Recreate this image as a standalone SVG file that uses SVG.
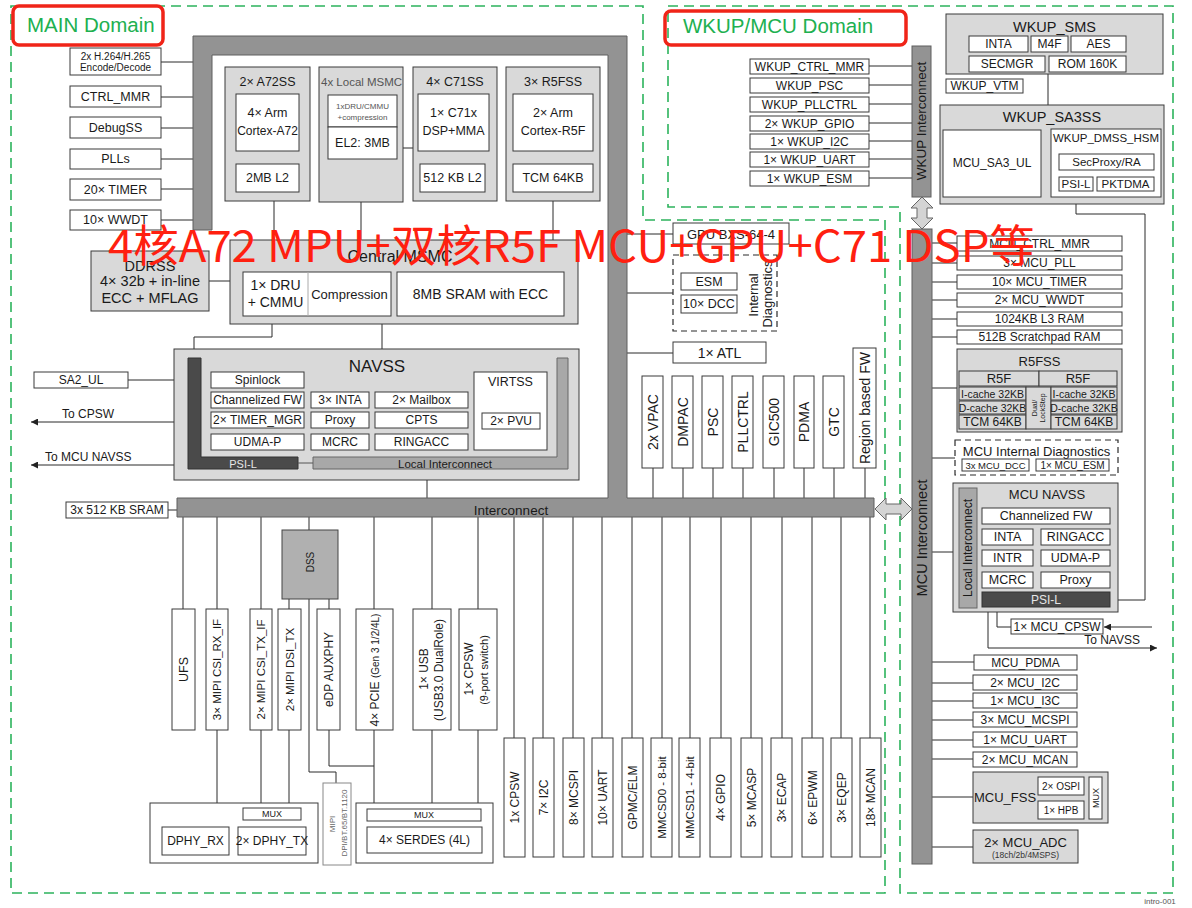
<svg xmlns="http://www.w3.org/2000/svg" width="1192" height="908" viewBox="0 0 1192 908">
<defs>
<style>
.bx{fill:#fff;stroke:#3a3a3a;stroke-width:1}
.gy{fill:#d9d9d9;stroke:#3a3a3a;stroke-width:1}
.bar{fill:#939393;stroke:#5e5e5e;stroke-width:1}
.dk{fill:#4a4a4a;stroke:#333;stroke-width:1}
.li{fill:#a8a8a8;stroke:#666;stroke-width:1}
.ln{fill:none;stroke:#2a2a2a;stroke-width:1}
.dash{fill:none;stroke:#2b2b2b;stroke-width:1.2;stroke-dasharray:6 4}
.dom{fill:none;stroke:#2cb35c;stroke-width:1.6;stroke-dasharray:10 6}
.red{fill:none;stroke:#f02418;stroke-width:3.5}
.dbl{fill:#d4d4d4;stroke:#666;stroke-width:1}
text{font-family:"Liberation Sans",Arial,sans-serif;fill:#1a1a1a}
.t{text-anchor:middle;dominant-baseline:central}
.lbl{fill:#20b050}
.lt{fill:#e6e6e6}
.gr{fill:#555}
</style>
<marker id="arr" viewBox="0 0 10 10" refX="10" refY="5" markerWidth="7" markerHeight="7" orient="auto"><path d="M0,0 L10,5 L0,10 Z" fill="#222"/></marker>
</defs>
<rect width="1192" height="908" fill="#fff"/>

<g id="domains">
<path class="dom" d="M11,6 H643 V220 H885 V893 H11 Z"/>
<path class="dom" d="M668,6 H1173 V893 H900 V207 H668 Z"/>
<rect class="red" x="13" y="6" width="150" height="39" rx="6"/>
<text class="lbl" x="27" y="32" font-size="20.5">MAIN Domain</text>
<rect class="red" x="665" y="11" width="241" height="34" rx="6"/>
<text class="lbl" x="683" y="33" font-size="20.5">WKUP/MCU Domain</text>
<text class="gr" x="1160" y="904" font-size="8" text-anchor="middle">intro-001</text>
</g>

<g id="connectors" class="ln">
<path d="M161,62H193 M161,97H193 M161,128H193 M161,159H193 M161,189H193 M161,220H193"/>
<path d="M274,201V240 M361,202V240 M553,201V240 M403,148H413"/>
<path d="M209,281H230 M272,324V337H194V358 M382,324V349 M128,380H174 M427,469V498 M168,510H177"/>
<path d="M188,422H31" marker-end="url(#arr)"/>
<path d="M188,465H31" marker-end="url(#arr)"/>
<path d="M627,234H673 M627,293H673 M627,353H673"/>
<path d="M653,468V498 M683,468V498 M713,468V498 M743,468V498 M774,468V498 M804,468V498 M834,468V498 M865,468V498"/>
<path d="M514,517V738 M543,517V738 M573,517V738 M602,517V738 M632,517V738 M662,517V738 M690,517V738 M721,517V738 M751,517V738 M782,517V738 M812,517V738 M841,517V738 M870,517V738"/>
<path d="M183,517V609 M217,517V609 M261,517V609 M309,517V530 M374,517V609 M432,517V609 M478,517V609 M289,599V609 M329,599V609"/>
<path d="M217,730V827 M261,730V808 M289,730V808 M374,730V809 M432,730V809 M478,730V809 M329,730V766H374 M309,599V772H336V783 M250,820V827 M282,820V827"/>
<path d="M869,66H912 M869,85H912 M869,104H912 M869,123H912 M869,141H912 M869,159H912 M869,178H912"/>
<path d="M1048,74V105 M1041,184H1059 M1076,204V214H1145V600H1110"/>
<path d="M932,243H957 M932,263H957 M932,282H957 M932,300H957 M932,319H957 M932,337H957 M932,388H957 M932,458H955 M932,552H959"/>
<path d="M997,607V627H1011"/>
<path d="M1152,627H1104" marker-end="url(#arr)"/>
<path d="M988,607V648H1157" marker-end="url(#arr)"/>
<path d="M932,662H974 M932,683H973 M932,701H973 M932,720H973 M932,740H973 M932,759H973 M932,797H973 M932,847H973 M1084,786H1089 M1084,810H1089"/>
</g>

<g id="main-frame">
<path class="bar" d="M193,36 H627 V498 H874 V517 H177 V498 H608 V55 H212 V230 H193 Z"/>
<text class="t" x="511" y="510" font-size="13.5">Interconnect</text>
<path class="dbl" d="M875,509 L886,498 V504 H901 V498 L912,509 L901,520 V514 H886 V520 Z"/>
</g>

<g id="left-periph">
<rect class="bx" x="70" y="48" width="91" height="27"/><text class="t" x="115.5" y="56" font-size="10">2x H.264/H.265</text><text class="t" x="115.5" y="67" font-size="10">Encode/Decode</text>
<rect class="bx" x="70" y="86" width="91" height="21"/><text class="t" x="115.5" y="96.5" font-size="12.5">CTRL_MMR</text>
<rect class="bx" x="70" y="117" width="91" height="21"/><text class="t" x="115.5" y="127.5" font-size="12.5">DebugSS</text>
<rect class="bx" x="70" y="149" width="91" height="20"/><text class="t" x="115.5" y="159" font-size="12.5">PLLs</text>
<rect class="bx" x="70" y="179" width="91" height="21"/><text class="t" x="115.5" y="189.5" font-size="12.5">20× TIMER</text>
<rect class="bx" x="70" y="210" width="91" height="20"/><text class="t" x="115.5" y="220" font-size="12.5">10× WWDT</text>
</g>

<g id="a72ss">
<rect class="gy" x="225" y="67" width="85" height="134"/>
<text class="t" x="267.5" y="82" font-size="12.5">2× A72SS</text>
<rect class="bx" x="236" y="94" width="63" height="57"/>
<text class="t" x="267.5" y="113" font-size="12.5">4× Arm</text><text class="t" x="267.5" y="131" font-size="12">Cortex-A72</text>
<rect class="bx" x="236" y="164" width="63" height="28"/><text class="t" x="267.5" y="178" font-size="12.5">2MB L2</text>
</g>
<g id="local-msmc">
<rect class="gy" x="319" y="67" width="84" height="135"/>
<text class="gr" x="321" y="86" font-size="11.5">4x Local MSMC</text>
<rect class="bx" x="328" y="95" width="69" height="32"/>
<text class="t gr" x="362.5" y="106" font-size="8">1xDRU/CMMU</text><text class="t gr" x="362.5" y="117" font-size="8">+compression</text>
<rect class="bx" x="328" y="127" width="69" height="32"/><text class="t" x="362.5" y="143" font-size="12.5">EL2: 3MB</text>
</g>
<g id="c71ss">
<rect class="gy" x="413" y="67" width="84" height="134"/>
<text class="t" x="455" y="82" font-size="12.5">4× C71SS</text>
<rect class="bx" x="418" y="94" width="71" height="57"/>
<text class="t" x="453.5" y="113" font-size="12.5">1× C71x</text><text class="t" x="453.5" y="131" font-size="12.5">DSP+MMA</text>
<rect class="bx" x="420" y="164" width="65" height="28"/><text class="t" x="452.5" y="178" font-size="12.5">512 KB L2</text>
</g>
<g id="r5fss">
<rect class="gy" x="506" y="67" width="94" height="134"/>
<text class="t" x="553" y="82" font-size="12.5">3× R5FSS</text>
<rect class="bx" x="513" y="94" width="80" height="57"/>
<text class="t" x="553" y="113" font-size="12.5">2× Arm</text><text class="t" x="553" y="131" font-size="12.5">Cortex-R5F</text>
<rect class="bx" x="513" y="164" width="80" height="28"/><text class="t" x="553" y="178" font-size="12.5">TCM 64KB</text>
</g>

<g id="ddrss">
<rect class="gy" x="91" y="251" width="118" height="60"/>
<text class="t" x="150" y="266" font-size="14.5">DDRSS</text>
<text class="t" x="150" y="281" font-size="14.5">4× 32b + in-line</text>
<text class="t" x="150" y="298" font-size="14.5">ECC + MFLAG</text>
</g>
<g id="central-msmc">
<rect class="gy" x="230" y="240" width="348" height="84"/>
<text class="t" x="400" y="256" font-size="16">Central MSMC</text>
<rect class="bx" x="243" y="272" width="148" height="44"/>
<path d="M308,272V316" stroke="#aaa" stroke-width="1"/>
<text class="t" x="275.5" y="285" font-size="14">1× DRU</text><text class="t" x="275.5" y="302" font-size="14">+ CMMU</text>
<text class="t" x="349.5" y="294" font-size="13">Compression</text>
<rect class="bx" x="397" y="272" width="167" height="44"/><text class="t" x="480.5" y="294" font-size="14">8MB SRAM with ECC</text>
</g>

<g id="navss">
<rect class="gy" x="174" y="349" width="405" height="131"/>
<text class="t" x="377" y="366" font-size="17">NAVSS</text>
<path class="dk" d="M188,358 H201 V457 H298 V469 H188 Z"/>
<text class="t lt" x="243" y="463.5" font-size="11">PSI-L</text>
<path class="li" d="M313,457 H557 V358 H568 V469 H313 Z"/>
<text class="t" x="445" y="463.5" font-size="11.5">Local Interconnect</text>
<path d="M298,463H313" stroke="#555"/>
<rect class="bx" x="211" y="372" width="93" height="16"/><text class="t" x="257.5" y="380" font-size="12">Spinlock</text>
<rect class="bx" x="211" y="392" width="93" height="16"/><text class="t" x="257.5" y="400" font-size="12">Channelized FW</text>
<rect class="bx" x="211" y="412" width="93" height="16"/><text class="t" x="257.5" y="420" font-size="12">2× TIMER_MGR</text>
<rect class="bx" x="211" y="434" width="93" height="16"/><text class="t" x="257.5" y="442" font-size="12">UDMA-P</text>
<rect class="bx" x="311" y="392" width="58" height="16"/><text class="t" x="340" y="400" font-size="12">3× INTA</text>
<rect class="bx" x="311" y="412" width="58" height="16"/><text class="t" x="340" y="420" font-size="12">Proxy</text>
<rect class="bx" x="311" y="434" width="58" height="16"/><text class="t" x="340" y="442" font-size="12">MCRC</text>
<rect class="bx" x="375" y="392" width="93" height="16"/><text class="t" x="421.5" y="400" font-size="12">2× Mailbox</text>
<rect class="bx" x="375" y="412" width="93" height="16"/><text class="t" x="421.5" y="420" font-size="12">CPTS</text>
<rect class="bx" x="375" y="434" width="93" height="16"/><text class="t" x="421.5" y="442" font-size="12">RINGACC</text>
<rect class="bx" x="474" y="372" width="73" height="78"/><text class="t" x="510.5" y="382" font-size="12.5">VIRTSS</text>
<rect class="bx" x="482" y="413" width="58" height="16"/><text class="t" x="511" y="421" font-size="12">2× PVU</text>
</g>

<g id="sa2ul"><rect class="bx" x="34" y="372" width="94" height="16"/><text class="t" x="81" y="380" font-size="12">SA2_UL</text></g>
<g id="to-cpsw"><text x="62" y="418" font-size="12">To CPSW</text></g>
<g id="to-mcu-navss"><text x="45" y="461" font-size="12">To MCU NAVSS</text></g>
<g id="sram"><rect class="bx" x="66" y="502" width="102" height="16"/><text class="t" x="117" y="510" font-size="12">3x 512 KB SRAM</text></g>

<g id="gpu"><rect class="bx" x="673" y="223" width="116" height="21"/><text class="t" x="731" y="234" font-size="13">GPU BXS-64-4</text></g>
<g id="int-diag">
<rect class="dash" x="673" y="255" width="104" height="76"/>
<rect class="bx" x="681" y="273" width="56" height="17"/><text class="t" x="709" y="281.5" font-size="12.5">ESM</text>
<rect class="bx" x="681" y="295" width="56" height="18"/><text class="t" x="709" y="304" font-size="12.5">10× DCC</text>
<text class="t" transform="translate(753,295) rotate(-90)" font-size="13">Internal</text>
<text class="t" transform="translate(767,294) rotate(-90)" font-size="13">Diagnostics</text>
</g>
<g id="atl"><rect class="bx" x="673" y="342" width="93" height="21"/><text class="t" x="719.5" y="353" font-size="14">1× ATL</text></g>

<g id="main-vert-top">
<rect class="bx" x="642" y="376" width="21" height="92"/><text class="t" transform="translate(652.5,422) rotate(-90)" font-size="14">2x VPAC</text>
<rect class="bx" x="672" y="376" width="21" height="92"/><text class="t" transform="translate(682.5,422) rotate(-90)" font-size="14">DMPAC</text>
<rect class="bx" x="702" y="376" width="21" height="92"/><text class="t" transform="translate(712.5,422) rotate(-90)" font-size="14">PSC</text>
<rect class="bx" x="732" y="376" width="21" height="92"/><text class="t" transform="translate(742.5,422) rotate(-90)" font-size="14">PLLCTRL</text>
<rect class="bx" x="763" y="376" width="21" height="92"/><text class="t" transform="translate(773.5,422) rotate(-90)" font-size="14">GIC500</text>
<rect class="bx" x="794" y="376" width="20" height="92"/><text class="t" transform="translate(804,422) rotate(-90)" font-size="14">PDMA</text>
<rect class="bx" x="823" y="376" width="21" height="92"/><text class="t" transform="translate(833.5,422) rotate(-90)" font-size="14">GTC</text>
<rect class="bx" x="853" y="348" width="23" height="120"/><text class="t" transform="translate(864.5,408) rotate(-90)" font-size="14">Region based FW</text>
</g>

<g id="main-vert-bottom">
<rect class="bx" x="504" y="738" width="21" height="119"/><text class="t" transform="translate(514.5,797.5) rotate(-90)" font-size="12">1x CPSW</text>
<rect class="bx" x="533" y="738" width="21" height="119"/><text class="t" transform="translate(543.5,797.5) rotate(-90)" font-size="12">7× I2C</text>
<rect class="bx" x="563" y="738" width="21" height="119"/><text class="t" transform="translate(573.5,797.5) rotate(-90)" font-size="12">8× MCSPI</text>
<rect class="bx" x="592" y="738" width="21" height="119"/><text class="t" transform="translate(602.5,797.5) rotate(-90)" font-size="12">10× UART</text>
<rect class="bx" x="622" y="738" width="21" height="119"/><text class="t" transform="translate(632.5,797.5) rotate(-90)" font-size="12">GPMC/ELM</text>
<rect class="bx" x="651" y="738" width="21" height="119"/><text class="t" transform="translate(661.5,797.5) rotate(-90)" font-size="11.5">MMCSD0 - 8-bit</text>
<rect class="bx" x="679" y="738" width="21" height="119"/><text class="t" transform="translate(689.5,797.5) rotate(-90)" font-size="11.5">MMCSD1 - 4-bit</text>
<rect class="bx" x="710" y="738" width="21" height="119"/><text class="t" transform="translate(720.5,797.5) rotate(-90)" font-size="12">4× GPIO</text>
<rect class="bx" x="741" y="738" width="21" height="119"/><text class="t" transform="translate(751.5,797.5) rotate(-90)" font-size="12">5× MCASP</text>
<rect class="bx" x="771" y="738" width="21" height="119"/><text class="t" transform="translate(781.5,797.5) rotate(-90)" font-size="12">3× ECAP</text>
<rect class="bx" x="802" y="738" width="21" height="119"/><text class="t" transform="translate(812.5,797.5) rotate(-90)" font-size="12">6× EPWM</text>
<rect class="bx" x="831" y="738" width="21" height="119"/><text class="t" transform="translate(841.5,797.5) rotate(-90)" font-size="12">3× EQEP</text>
<rect class="bx" x="860" y="738" width="21" height="119"/><text class="t" transform="translate(870.5,797.5) rotate(-90)" font-size="12">18× MCAN</text>
</g>

<g id="dss">
<rect x="282" y="530" width="56" height="69" fill="#b0b0b0" stroke="#444"/>
<text class="t" transform="translate(310,562) rotate(-90)" font-size="10">DSS</text>
</g>
<g id="hs-periph">
<rect class="bx" x="172" y="609" width="23" height="121"/><text class="t" transform="translate(183.5,669.5) rotate(-90)" font-size="12.5">UFS</text>
<rect class="bx" x="206" y="609" width="22" height="121"/><text class="t" transform="translate(217,669.5) rotate(-90)" font-size="11.5">3× MIPI CSI_RX_IF</text>
<rect class="bx" x="250" y="609" width="22" height="121"/><text class="t" transform="translate(261,669.5) rotate(-90)" font-size="11.5">2× MIPI CSI_TX_IF</text>
<rect class="bx" x="278" y="609" width="23" height="121"/><text class="t" transform="translate(289.5,669.5) rotate(-90)" font-size="11.5">2× MIPI DSI_TX</text>
<rect class="bx" x="317" y="609" width="23" height="121"/><text class="t" transform="translate(328.5,669.5) rotate(-90)" font-size="12">eDP AUXPHY</text>
<rect class="bx" x="356" y="609" width="37" height="121"/><text class="t" transform="translate(374.5,670) rotate(-90)" font-size="12">4× PCIE <tspan font-size="10">(Gen 3 1/2/4L)</tspan></text>
<rect class="bx" x="413" y="609" width="38" height="121"/><text class="t" transform="translate(424,669) rotate(-90)" font-size="12">1× USB</text><text class="t" transform="translate(439,670) rotate(-90)" font-size="12">(USB3.0 DualRole)</text>
<rect class="bx" x="459" y="609" width="38" height="121"/><text class="t" transform="translate(469,669) rotate(-90)" font-size="12">1× CPSW</text><text class="t" transform="translate(484,670) rotate(-90)" font-size="11">(9-port switch)</text>
</g>
<g id="dphy">
<rect class="bx" x="150" y="803" width="168" height="60"/>
<rect class="bx" x="162" y="827" width="67" height="28"/><text class="t" x="195.5" y="841" font-size="12">DPHY_RX</text>
<rect class="bx" x="243" y="808" width="58" height="12"/><text class="t" x="272" y="814" font-size="9">MUX</text>
<rect class="bx" x="238" y="827" width="68" height="28"/><text class="t" x="272" y="841" font-size="12">2× DPHY_TX</text>
</g>
<g id="mipi-dpi">
<rect x="323" y="783" width="28" height="82" fill="#fff" stroke="#888"/>
<text class="t" transform="translate(332,824) rotate(-90)" font-size="8" style="fill:#666">MIPI</text>
<text class="t" transform="translate(344,823) rotate(-90)" font-size="8" style="fill:#666">DPI/BT.65/BT.1120</text>
</g>
<g id="serdes">
<rect class="bx" x="356" y="803" width="137" height="60"/>
<rect class="bx" x="367" y="809" width="114" height="12"/><text class="t" x="424" y="815" font-size="9">MUX</text>
<rect class="bx" x="367" y="827" width="115" height="26"/><text class="t" x="424.5" y="840" font-size="12">4× SERDES (4L)</text>
</g>

<g id="wkup-ic">
<rect class="bar" x="912" y="46" width="19" height="151"/>
<text class="t" transform="translate(921.5,121) rotate(-90)" font-size="13.5">WKUP Interconnect</text>
<path class="dbl" d="M922,197 L933,208 H927 V218 H933 L922,229 L911,218 H917 V208 H911 Z"/>
</g>
<g id="wkup-periph">
<rect class="bx" x="750" y="59" width="119" height="15"/><text class="t" x="809.5" y="66.5" font-size="12">WKUP_CTRL_MMR</text>
<rect class="bx" x="750" y="78" width="119" height="15"/><text class="t" x="809.5" y="85.5" font-size="12">WKUP_PSC</text>
<rect class="bx" x="750" y="97" width="119" height="15"/><text class="t" x="809.5" y="104.5" font-size="12">WKUP_PLLCTRL</text>
<rect class="bx" x="750" y="116" width="119" height="15"/><text class="t" x="809.5" y="123.5" font-size="12">2× WKUP_GPIO</text>
<rect class="bx" x="750" y="134" width="119" height="15"/><text class="t" x="809.5" y="141.5" font-size="12">1× WKUP_I2C</text>
<rect class="bx" x="750" y="152" width="119" height="15"/><text class="t" x="809.5" y="159.5" font-size="12">1× WKUP_UART</text>
<rect class="bx" x="750" y="171" width="119" height="15"/><text class="t" x="809.5" y="178.5" font-size="12">1× WKUP_ESM</text>
</g>
<g id="wkup-sms">
<rect class="gy" x="946" y="14" width="217" height="60"/>
<text class="t" x="1054.5" y="27" font-size="14.5">WKUP_SMS</text>
<rect class="bx" x="969" y="36" width="59" height="16"/><text class="t" x="998.5" y="44" font-size="12">INTA</text>
<rect class="bx" x="1031" y="36" width="37" height="16"/><text class="t" x="1049.5" y="44" font-size="12">M4F</text>
<rect class="bx" x="1071" y="36" width="55" height="16"/><text class="t" x="1098.5" y="44" font-size="12">AES</text>
<rect class="bx" x="969" y="56" width="76" height="16"/><text class="t" x="1007" y="64" font-size="12">SECMGR</text>
<rect class="bx" x="1049" y="56" width="77" height="16"/><text class="t" x="1087.5" y="64" font-size="12">ROM 160K</text>
</g>
<g id="wkup-vtm"><rect class="bx" x="946" y="79" width="77" height="14"/><text class="t" x="984.5" y="86" font-size="12">WKUP_VTM</text></g>
<g id="wkup-sa3ss">
<rect class="gy" x="940" y="105" width="224" height="99"/>
<text class="t" x="1052" y="117" font-size="14.5">WKUP_SA3SS</text>
<rect class="bx" x="943" y="130" width="98" height="67"/><text class="t" x="992" y="163" font-size="12">MCU_SA3_UL</text>
<rect class="bx" x="1051" y="129" width="110" height="68"/><text class="t" x="1106" y="138" font-size="11.5">WKUP_DMSS_HSM</text>
<rect class="bx" x="1059" y="154" width="95" height="16"/><text class="t" x="1106.5" y="162" font-size="11.5">SecProxy/RA</text>
<rect class="bx" x="1059" y="177" width="34" height="14"/><text class="t" x="1076" y="184" font-size="11.5">PSI-L</text>
<rect class="bx" x="1097" y="177" width="57" height="14"/><text class="t" x="1125.5" y="184" font-size="11.5">PKTDMA</text>
</g>

<g id="mcu-ic">
<rect class="bar" x="912" y="229" width="20" height="635"/>
<text class="t" transform="translate(922,538) rotate(-90)" font-size="14.5">MCU Interconnect</text>
</g>
<g id="mcu-periph-top">
<rect class="bx" x="957" y="236" width="165" height="15"/><text class="t" x="1039.5" y="243.5" font-size="12">MCU_CTRL_MMR</text>
<rect class="bx" x="957" y="256" width="165" height="14"/><text class="t" x="1039.5" y="263" font-size="12">3× MCU_PLL</text>
<rect class="bx" x="957" y="275" width="165" height="14"/><text class="t" x="1039.5" y="282" font-size="12">10× MCU_TIMER</text>
<rect class="bx" x="957" y="293" width="165" height="14"/><text class="t" x="1039.5" y="300" font-size="12">2× MCU_WWDT</text>
<rect class="bx" x="957" y="312" width="165" height="14"/><text class="t" x="1039.5" y="319" font-size="12">1024KB L3 RAM</text>
<rect class="bx" x="957" y="330" width="165" height="14"/><text class="t" x="1039.5" y="337" font-size="12">512B Scratchpad RAM</text>
</g>
<g id="mcu-r5fss">
<rect class="gy" x="957" y="349" width="165" height="83"/>
<text class="t" x="1039.5" y="361" font-size="13">R5FSS</text>
<rect class="gy" x="959" y="371" width="80" height="15"/><text class="t" x="999" y="378.5" font-size="13">R5F</text>
<rect class="gy" x="1039" y="371" width="78" height="15"/><text class="t" x="1078" y="378.5" font-size="13">R5F</text>
<rect class="gy" x="959" y="387" width="67" height="13"/><text class="t" x="992.5" y="393.5" font-size="10.5">I-cache 32KB</text>
<rect class="gy" x="959" y="401" width="67" height="13"/><text class="t" x="992.5" y="407.5" font-size="10.5">D-cache 32KB</text>
<rect class="gy" x="959" y="415" width="67" height="14"/><text class="t" x="992.5" y="422" font-size="12">TCM 64KB</text>
<rect class="gy" x="1026" y="387" width="25" height="42"/>
<text class="t" transform="translate(1034,408) rotate(-90)" font-size="7">Dual/</text>
<text class="t" transform="translate(1042,408) rotate(-90)" font-size="7">LockStep</text>
<rect class="gy" x="1051" y="387" width="66" height="13"/><text class="t" x="1084" y="393.5" font-size="10.5">I-cache 32KB</text>
<rect class="gy" x="1051" y="401" width="66" height="13"/><text class="t" x="1084" y="407.5" font-size="10.5">D-cache 32KB</text>
<rect class="gy" x="1051" y="415" width="66" height="14"/><text class="t" x="1084" y="422" font-size="12">TCM 64KB</text>
</g>
<g id="mcu-diag">
<rect class="dash" x="955" y="440" width="163" height="35"/>
<text class="t" x="1036.5" y="451" font-size="13">MCU Internal Diagnostics</text>
<rect class="bx" x="962" y="459" width="67" height="12"/><text class="t" x="995.5" y="465" font-size="9.5">3x MCU_DCC</text>
<rect class="bx" x="1036" y="459" width="73" height="12"/><text class="t" x="1072.5" y="465" font-size="10">1× MCU_ESM</text>
</g>
<g id="mcu-navss">
<rect class="gy" x="953" y="483" width="165" height="129"/>
<text class="t" x="1047" y="494" font-size="13">MCU NAVSS</text>
<rect class="li" x="959" y="488" width="18" height="120"/>
<text class="t" transform="translate(968,548) rotate(-90)" font-size="12">Local Interconnect</text>
<rect class="bx" x="982" y="508" width="128" height="16"/><text class="t" x="1046" y="516" font-size="12.5">Channelized FW</text>
<rect class="bx" x="982" y="529" width="51" height="16"/><text class="t" x="1007.5" y="537" font-size="12.5">INTA</text>
<rect class="bx" x="1041" y="529" width="69" height="16"/><text class="t" x="1075.5" y="537" font-size="12.5">RINGACC</text>
<rect class="bx" x="982" y="550" width="51" height="16"/><text class="t" x="1007.5" y="558" font-size="12.5">INTR</text>
<rect class="bx" x="1041" y="550" width="69" height="16"/><text class="t" x="1075.5" y="558" font-size="12.5">UDMA-P</text>
<rect class="bx" x="982" y="572" width="51" height="16"/><text class="t" x="1007.5" y="580" font-size="12.5">MCRC</text>
<rect class="bx" x="1041" y="572" width="69" height="16"/><text class="t" x="1075.5" y="580" font-size="12.5">Proxy</text>
<rect class="dk" x="982" y="592" width="128" height="15"/><text class="t lt" x="1046" y="599.5" font-size="12">PSI-L</text>
</g>
<g id="mcu-cpsw"><rect class="bx" x="1011" y="619" width="92" height="15"/><text class="t" x="1057" y="626.5" font-size="12">1× MCU_CPSW</text></g>
<g id="to-navss"><text x="1140" y="644" font-size="12" text-anchor="end">To NAVSS</text></g>
<g id="mcu-periph-bottom">
<rect class="bx" x="974" y="655" width="103" height="15"/><text class="t" x="1025.5" y="662.5" font-size="12">MCU_PDMA</text>
<rect class="bx" x="973" y="675" width="104" height="15"/><text class="t" x="1025" y="682.5" font-size="12">2× MCU_I2C</text>
<rect class="bx" x="973" y="693" width="104" height="15"/><text class="t" x="1025" y="700.5" font-size="12">1× MCU_I3C</text>
<rect class="bx" x="973" y="712" width="104" height="15"/><text class="t" x="1025" y="719.5" font-size="12">3× MCU_MCSPI</text>
<rect class="bx" x="973" y="732" width="104" height="15"/><text class="t" x="1025" y="739.5" font-size="12">1× MCU_UART</text>
<rect class="bx" x="973" y="752" width="104" height="15"/><text class="t" x="1025" y="759.5" font-size="12">2× MCU_MCAN</text>
</g>
<g id="mcu-fss">
<rect class="gy" x="973" y="772" width="135" height="51"/>
<text class="t" x="1005" y="797" font-size="13">MCU_FSS</text>
<rect class="bx" x="1038" y="777" width="46" height="18"/><text class="t" x="1061" y="786" font-size="10">2× OSPI</text>
<rect class="bx" x="1038" y="801" width="46" height="18"/><text class="t" x="1061" y="810" font-size="10">1× HPB</text>
<rect class="bx" x="1089" y="777" width="13" height="42"/><text class="t" transform="translate(1095.5,798) rotate(-90)" font-size="9">MUX</text>
</g>
<g id="mcu-adc">
<rect class="gy" x="973" y="830" width="105" height="33"/>
<text class="t" x="1025.5" y="842" font-size="13">2× MCU_ADC</text>
<text class="t" x="1025.5" y="855" font-size="8.5" style="fill:#333">(18ch/2b/4MSPS)</text>
</g>

<g id="overlay">
<text x="108" y="262" font-size="44" style="font-family:'Noto Sans CJK SC','Noto Sans',sans-serif;fill:#ff2010" textLength="927" lengthAdjust="spacingAndGlyphs">4核A72 MPU+双核R5F MCU+GPU+C71 DSP等</text>
</g>
</svg>
